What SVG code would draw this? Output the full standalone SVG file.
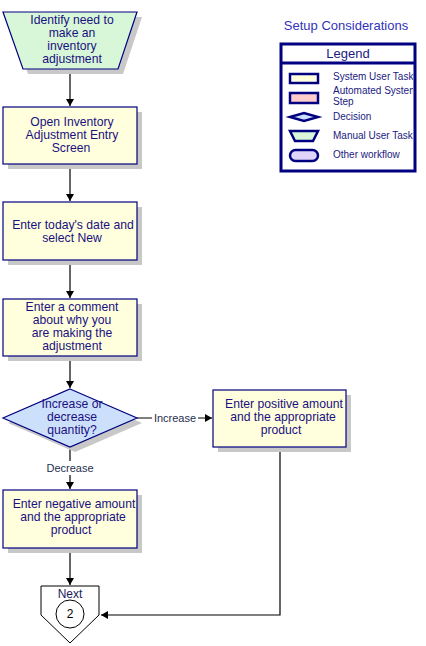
<svg xmlns="http://www.w3.org/2000/svg" width="426" height="646" viewBox="0 0 426 646">
<style>
text{font-family:"Liberation Sans",Arial,sans-serif;font-size:12.2px;fill:#1a1080;text-anchor:middle}
.sh{fill:#c8c8c8}
.task{fill:#ffffdd;stroke:#000080;stroke-width:1.2}
.man{fill:#d8f7d8;stroke:#000080;stroke-width:1.2}
.dec{fill:#cde0fb;stroke:#000080;stroke-width:1.2}
.con{fill:none;stroke:#000;stroke-width:1.2}
.lbl{fill:#1f2f4f;font-size:11px}
.lg{fill:#1a1a80;font-size:10px;text-anchor:start}
.lgs{stroke:#000080;stroke-width:3}
</style>
<defs>
<marker id="ah" markerWidth="8" markerHeight="8" refX="7" refY="4" orient="auto" markerUnits="userSpaceOnUse">
<path d="M0,0 L7,4 L0,8 Z" fill="#000"/>
</marker>
<clipPath id="lgclip"><rect x="283" y="65" width="130" height="104"/></clipPath>
</defs>
<rect width="426" height="646" fill="#fff"/>

<g id="connectors">
<line class="con" x1="70" y1="69" x2="70" y2="106" marker-end="url(#ah)"/>
<line class="con" x1="70" y1="164" x2="70" y2="201" marker-end="url(#ah)"/>
<line class="con" x1="70" y1="260" x2="70" y2="298" marker-end="url(#ah)"/>
<line class="con" x1="70" y1="356" x2="70" y2="388" marker-end="url(#ah)"/>
<line class="con" x1="137" y1="418" x2="212" y2="418" marker-end="url(#ah)"/>
<line class="con" x1="70" y1="447" x2="70" y2="489" marker-end="url(#ah)"/>
<line class="con" x1="70" y1="548" x2="70" y2="585" marker-end="url(#ah)"/>
<polyline class="con" points="280,447 280,615 101,615" marker-end="url(#ah)"/>
<rect x="152" y="411" width="46" height="14" fill="#fff"/>
<text class="lbl" x="175" y="422">Increase</text>
<rect x="44" y="461" width="52" height="14" fill="#fff"/>
<text class="lbl" x="70" y="472">Decrease</text>
</g>

<g id="n1">
<polygon class="sh" points="8,17 142,17 123,74 28,74"/>
<polygon class="man" points="3,12 137,12 118,69 23,69"/>
<text x="72" y="24">Identify need to</text>
<text x="72" y="37">make an</text>
<text x="72" y="50">inventory</text>
<text x="72" y="63">adjustment</text>
</g>

<g id="n2">
<rect class="sh" x="8" y="112" width="134" height="57"/>
<rect class="task" x="3" y="107" width="134" height="57"/>
<text x="72" y="126">Open Inventory</text>
<text x="72" y="139">Adjustment Entry</text>
<text x="71" y="152">Screen</text>
</g>

<g id="n3">
<rect class="sh" x="8" y="207" width="134" height="58"/>
<rect class="task" x="3" y="202" width="134" height="58"/>
<text x="73" y="229">Enter today's date and</text>
<text x="72" y="242">select New</text>
</g>

<g id="n4">
<rect class="sh" x="8" y="304" width="134" height="57"/>
<rect class="task" x="3" y="299" width="134" height="57"/>
<text x="72" y="311">Enter a comment</text>
<text x="72" y="324">about why you</text>
<text x="72" y="337">are making the</text>
<text x="72" y="350">adjustment</text>
</g>

<g id="n5">
<polygon class="sh" points="75,394 142,423 75,452 8,423"/>
<polygon class="dec" points="70,389 137,418 70,447 3,418"/>
<text x="72" y="408">Increase or</text>
<text x="72" y="421">decrease</text>
<text x="72" y="434">quantity?</text>
</g>

<g id="n6">
<rect class="sh" x="218" y="395" width="133" height="57"/>
<rect class="task" x="213" y="390" width="133" height="57"/>
<text x="284" y="408">Enter positive amount</text>
<text x="283" y="421">and the appropriate</text>
<text x="281" y="434">product</text>
</g>

<g id="n7">
<rect class="sh" x="8" y="495" width="134" height="58"/>
<rect class="task" x="3" y="490" width="134" height="58"/>
<text x="74" y="508">Enter negative amount</text>
<text x="73" y="521">and the appropriate</text>
<text x="71" y="534">product</text>
</g>

<g id="n8">
<polygon points="41,586 99,586 99,615 70,643 41,615" fill="#fff" stroke="#000" stroke-width="1"/>
<text x="70" y="598" style="fill:#1a1a60;font-size:12px">Next</text>
<circle cx="70" cy="614" r="14" fill="#fff" stroke="#000" stroke-width="1"/>
<text x="70" y="618" style="fill:#000;font-size:12px">2</text>
</g>

<g id="legend">
<text x="346" y="30" style="font-size:13px;fill:#3333bb">Setup Considerations</text>
<rect x="281" y="44" width="134" height="127" fill="#fff" class="lgs"/>
<line x1="281" y1="63" x2="415" y2="63" class="lgs"/>
<text x="348" y="58" style="fill:#1a1a80;font-size:13px">Legend</text>
<rect x="290" y="74" width="28" height="9" fill="#ffffdd" stroke="#000080" stroke-width="2.5"/>
<rect x="290" y="93" width="28" height="10" fill="#ffcccc" stroke="#000080" stroke-width="2.5"/>
<polygon points="290,117 304,113 318,117 304,121" fill="#cde0fb" stroke="#000080" stroke-width="2.5"/>
<polygon points="290,131 318,131 313,141 295,141" fill="#d8f7d8" stroke="#000080" stroke-width="2.5"/>
<rect x="290" y="150" width="28" height="11" rx="5.5" fill="#e0d4fa" stroke="#000080" stroke-width="2.5"/>
<g clip-path="url(#lgclip)">
<text class="lg" x="333" y="80">System User Task</text>
<text class="lg" x="333" y="94">Automated System</text>
<text class="lg" x="333" y="105">Step</text>
<text class="lg" x="333" y="120">Decision</text>
<text class="lg" x="333" y="139">Manual User Task</text>
<text class="lg" x="333" y="158">Other workflow</text>
</g>
</g>
</svg>
